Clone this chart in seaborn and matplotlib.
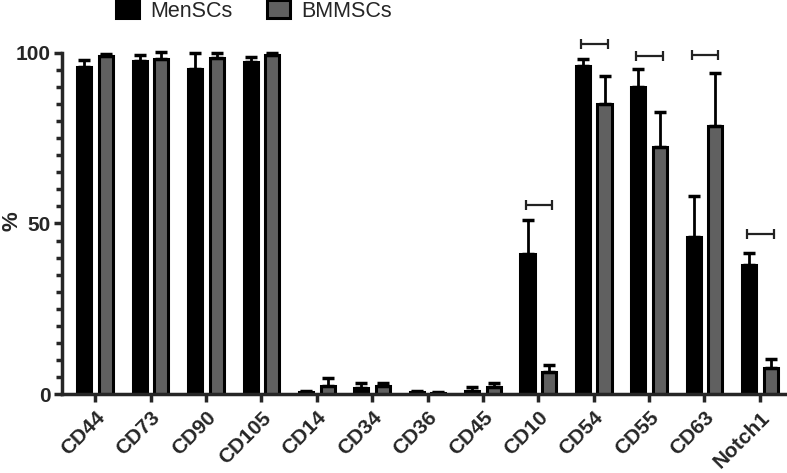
import numpy as np
import pandas as pd
import seaborn as sns
import matplotlib.pyplot as plt
from matplotlib.ticker import FixedLocator

markers = ['CD44', 'CD73', 'CD90', 'CD105', 'CD14', 'CD34', 'CD36', 'CD45',
           'CD10', 'CD54', 'CD55', 'CD63', 'Notch1']
men_mean = [95.8, 97.6, 95.2, 97.5, 0.5, 1.7, 0.5, 1.0, 41.0, 96.2, 90.1, 46.0, 37.8]
men_err = [2.1, 1.9, 4.8, 1.4, 0.3, 1.6, 0.3, 1.1, 10.0, 2.1, 5.2, 12.2, 3.6]
bm_mean = [99.2, 98.3, 98.6, 99.4, 2.2, 2.2, 0.3, 2.1, 6.5, 85.0, 72.3, 78.6, 7.5]
bm_err = [0.6, 2.0, 1.4, 0.5, 2.4, 0.9, 0.3, 1.0, 2.1, 8.2, 10.3, 15.4, 2.7]
groups = ['MenSCs', 'BMMSCs']
# significance brackets (marker, height)
sig_markers = ['CD10', 'CD54', 'CD55', 'CD63', 'Notch1']
sig_y = [55.4, 102.6, 99.2, 99.5, 46.8]

df = pd.DataFrame({
    'marker': markers * 2,
    'group': [groups[0]] * len(markers) + [groups[1]] * len(markers),
    'value': men_mean + bm_mean,
    'err': men_err + bm_err,
})

sns.set_style('ticks')
plt.rcParams['font.family'] = ['Liberation Sans', 'DejaVu Sans']

fig = plt.figure(figsize=(7.87, 4.73), dpi=100)
ax = fig.add_axes([62 / 787, 1 - 394 / 473, 1 - 62 / 787, (394 - 30) / 473])

sns.barplot(data=df, x='marker', y='value', hue='group', order=markers,
            hue_order=groups, palette=['black', '#606060'], width=0.78, gap=0.35,
            edgecolor='black', linewidth=2.2, errorbar=None, ax=ax, legend=True)

# upper-only error bars from the drawn bars
for bar, e in zip(ax.patches[:len(df)], df['err']):
    xc = bar.get_x() + bar.get_width() / 2
    h = bar.get_height()
    ax.errorbar(xc, h, yerr=[[0], [e]], fmt='none', ecolor='black',
                elinewidth=2, capsize=4, capthick=2.5, zorder=1)

for m, y in zip(sig_markers, sig_y):
    ax.errorbar(markers.index(m) + 0.01, y, xerr=0.24, fmt='none', ecolor='#222222',
                elinewidth=1.6, capsize=3.5, capthick=1.6, clip_on=False)

ax.set_xlim(-0.6, 12.49)
ax.set_ylim(0, (394 - 30) / 3.41)
ax.spines['left'].set_bounds(0, 100)
ax.spines['top'].set_visible(False)
ax.spines['right'].set_visible(False)
for s in ['left', 'bottom']:
    ax.spines[s].set_linewidth(2.5)
ax.set_yticks([0, 50, 100])
ax.yaxis.set_minor_locator(FixedLocator(np.arange(0, 101, 5)))
ax.tick_params(axis='both', which='major', width=2.5, length=6, labelsize=15, pad=2)
ax.tick_params(axis='x', pad=4)
ax.tick_params(axis='y', which='minor', width=2.5, length=4)
ax.set_xlabel('')
ax.set_ylabel('')
fig.text(12 / 787, 1 - 221 / 473, '%', rotation=90, ha='center', va='center',
         fontsize=16, fontweight='bold')
for lbl in ax.get_yticklabels():
    lbl.set_fontweight('bold')
ax.set_xticks(range(len(markers)))
ax.set_xticklabels(markers, rotation=45, ha='right', rotation_mode='anchor',
                   fontweight='bold', fontsize=15)

handles, labels = ax.get_legend_handles_labels()
ax.legend(handles, labels, loc='center left', bbox_to_anchor=(116 / 787, 1 - 11 / 473),
          bbox_transform=fig.transFigure, ncol=2, frameon=False, fontsize=15.5,
          handlelength=1.05, handleheight=0.85, columnspacing=1.6, handletextpad=0.55,
          borderpad=0, borderaxespad=0)

fig.savefig('out.png', dpi=100)
